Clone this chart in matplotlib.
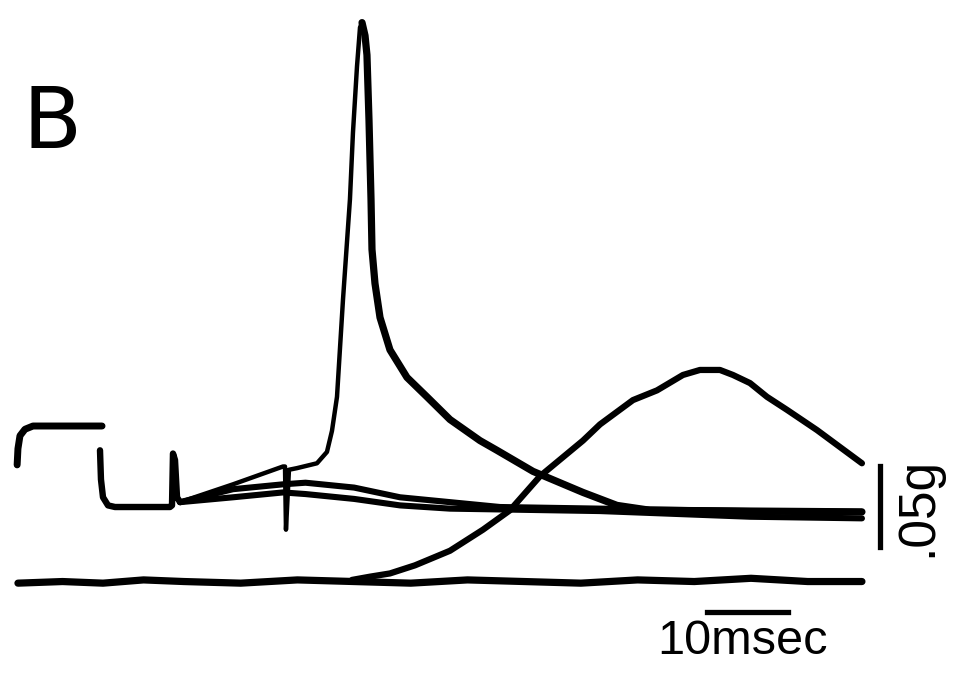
import matplotlib
matplotlib.use("Agg")
import matplotlib.pyplot as plt

# Muscle force traces, time in ms (0 = first stimulus), force in g
marker_t = [-10.6, -10.5, -10.25, -9.63, -8.64, -0.12]
marker_g = [0.026, 0.036, 0.044, 0.048, 0.050, 0.050]

pre_t = [-0.37, -0.25, 0.0, 0.62, 1.48, 8.27, 8.52, 8.64, 8.89, 9.14, 9.51]
pre_g = [0.035, 0.017, 0.006, 0.001, 0.0, 0.0, 0.001, 0.033, 0.029, 0.006, 0.003]

# largest twitch (rising part, then decay)
big_t = [9.51, 16.05, 22.22, 22.47, 22.59, 22.96, 23.95, 26.42, 27.65, 28.27,
         28.89, 29.63, 30.49, 30.86, 31.36, 31.73, 31.98]
big_g = [0.003, 0.014, 0.025, 0.025, -0.014, 0.023, 0.024, 0.027, 0.034, 0.047,
         0.068, 0.128, 0.190, 0.231, 0.272, 0.296, 0.299]
decay_t = [31.98, 32.35, 32.59, 32.84, 33.09, 33.21, 33.58, 34.20, 35.43, 37.53,
           40.0, 42.84, 46.54, 48.64, 53.09, 59.26, 63.46, 67.53, 79.88, 93.70]
decay_g = [0.299, 0.291, 0.279, 0.239, 0.190, 0.159, 0.138, 0.117, 0.097, 0.080,
           0.068, 0.054, 0.041, 0.035, 0.022, 0.009, 0.001, -0.002, -0.0025, -0.003]

mid_t = [9.51, 16.05, 22.22, 25.0, 31.0, 36.67, 42.84, 49.01, 61.36, 79.88, 93.70]
mid_g = [0.003, 0.011, 0.014, 0.015, 0.012, 0.006, 0.003, 0.0, -0.001, -0.0025, -0.003]

low_t = [9.51, 16.05, 22.22, 25.0, 31.0, 36.67, 42.84, 61.36, 79.88, 93.70]
low_g = [0.003, 0.006, 0.009, 0.008, 0.005, 0.001, -0.001, -0.0025, -0.006, -0.007]

# slow contraction
slow_t = [30.74, 32.96, 35.43, 38.52, 42.84, 46.91, 50.25, 53.95, 59.26, 61.36,
          65.43, 68.40, 71.60, 73.70, 76.17, 77.78, 79.88, 81.98, 84.44, 88.15,
          90.99, 93.70]
slow_g = [-0.045, -0.043, -0.041, -0.036, -0.027, -0.014, -0.002, 0.019, 0.041, 0.051,
          0.066, 0.072, 0.0815, 0.0846, 0.0846, 0.0815, 0.0765, 0.068, 0.060, 0.0475,
          0.037, 0.027]

base_t = [-10.5, -5.0, 0.0, 5.0, 10.0, 17.0, 24.0, 31.0, 38.0, 45.0, 52.0,
          59.0, 66.0, 73.0, 80.0, 87.0, 93.7]
base_g = [-0.047, -0.046, -0.047, -0.045, -0.046, -0.047, -0.045, -0.046, -0.047,
          -0.045, -0.046, -0.047, -0.045, -0.046, -0.044, -0.046, -0.046]

# scale bars
bar_force = 0.05  # g
bar_time = 10     # ms

fig = plt.figure(figsize=(9.55, 6.87), dpi=100)
ax = fig.add_axes([0, 0, 1, 1])
ax.set_xlim(-12.716, 105.19)
ax.set_ylim(-0.1111, 0.31296)
ax.axis("off")

kw = dict(color="black", solid_capstyle="round", solid_joinstyle="round")
ax.plot(marker_t, marker_g, lw=5, **kw)
ax.plot(pre_t, pre_g, lw=4.6, **kw)
ax.plot(big_t, big_g, lw=3.2, **kw)
ax.plot(decay_t, decay_g, lw=5.2, **kw)
ax.plot(mid_t, mid_g, lw=4.4, **kw)
ax.plot(low_t, low_g, lw=4.4, **kw)
ax.plot(slow_t, slow_g, lw=4.5, **kw)
ax.plot(base_t, base_g, lw=5.2, **kw)

# .05 g bar
ax.plot([95.93, 95.93], [0.0253, 0.0253 - bar_force], lw=3.8, color="black")
ax.text(100.6, 0.0003, ".05g", rotation=90, ha="center", va="center",
        fontsize=37, family="Liberation Sans")
# 10 msec bar
ax.plot([74.57, 74.57 + bar_time], [-0.0648, -0.0648], lw=3.8, color="black")
ax.text(79.0, -0.0833, "10msec", ha="center", va="center",
        fontsize=35, family="Liberation Sans")

ax.text(-6.3, 0.236, "B", ha="center", va="center", fontsize=62,
        family="DejaVu Sans")

fig.savefig("out.png", dpi=100)
